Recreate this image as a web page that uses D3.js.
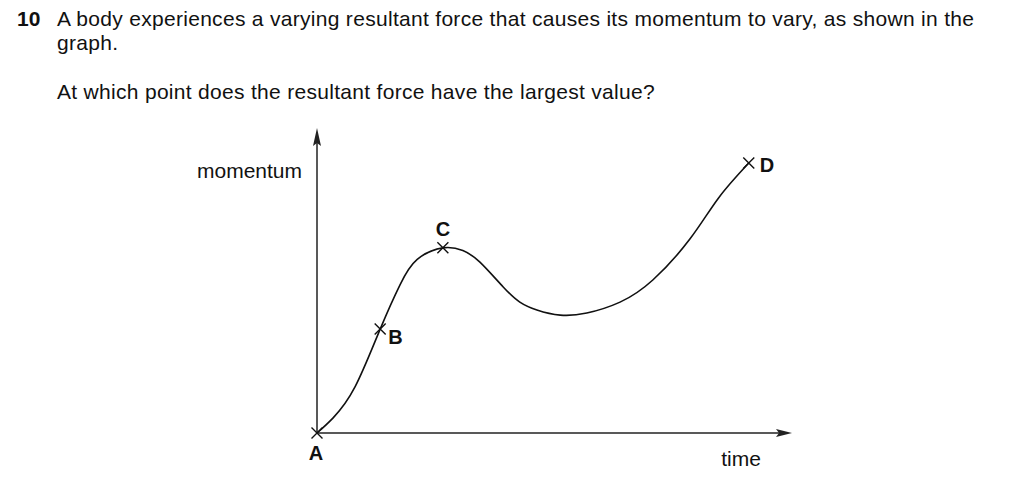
<!DOCTYPE html>
<html>
<head>
<meta charset="utf-8">
<script src="https://cdn.jsdelivr.net/npm/d3@7"></script>
<style>
  html, body { margin: 0; padding: 0; background: #fff; }
  svg { display: block; font-family: "Liberation Sans", Arial, Helvetica, sans-serif; }
</style>
</head>
<body>
<svg id="chart" width="1024" height="498"></svg>
<script>
// ---- data (time and momentum in arbitrary units) ----
const curveTime     = [0, 3.4, 8.0, 13.3, 17.5, 21.1, 26.5, 30.7, 34.3, 39.2, 42.7, 46.3, 51.2, 56.8, 63.8, 70.7, 78.5, 84.5, 90.9];
const curveMomentum = [0, 5.0, 15.2, 34.3, 49.0, 57.3, 61.1, 60.2, 56.4, 48.2, 43.2, 40.6, 38.9, 39.6, 43.2, 50.5, 64.0, 77.5, 89.1];
const pointNames    = ["A", "B", "C", "D"];
const pointTime     = [0, 13.3, 26.5, 90.9];
const pointMomentum = [0, 34.3, 61.1, 89.1];
const axisLabels    = ["time", "momentum"];
const questionLines = [
  "A body experiences a varying resultant force that causes its momentum to vary, as shown in the",
  "graph.",
  "At which point does the resultant force have the largest value?"
];
const questionNumber = "10";

const svg = d3.select("#chart");
const ink = "#111";

// ---- question text ----
svg.append("text").attr("x", 17).attr("y", 26)
  .attr("font-size", 21).attr("font-weight", "bold").attr("fill", ink)
  .text(questionNumber);
const qY = [26, 50, 99];
questionLines.forEach((t, i) => {
  svg.append("text").attr("x", 57).attr("y", qY[i])
    .attr("font-size", 21).attr("letter-spacing", 0.3).attr("fill", ink).text(t);
});

// ---- scales ----
const x = d3.scaleLinear().domain([0, 100]).range([317, 792]);
const y = d3.scaleLinear().domain([0, 100]).range([433, 130]);

// ---- axes ----
const axisG = svg.append("g");
axisG.append("line")
  .attr("x1", x(0)).attr("y1", y(0)).attr("x2", x(0)).attr("y2", y(100) + 12)
  .attr("stroke", "#222").attr("stroke-width", 1.5);
axisG.append("line")
  .attr("x1", x(0)).attr("y1", y(0)).attr("x2", x(100) - 12).attr("y2", y(0))
  .attr("stroke", "#222").attr("stroke-width", 1.5);
axisG.append("path")
  .attr("d", `M${x(0)},${y(100) - 2} L${x(0) - 4},${y(100) + 16} L${x(0)},${y(100) + 13} L${x(0) + 4},${y(100) + 16} Z`)
  .attr("fill", "#222");
axisG.append("path")
  .attr("d", `M${x(100)},${y(0)} L${x(100) - 16},${y(0) - 4} L${x(100) - 13},${y(0)} L${x(100) - 16},${y(0) + 4} Z`)
  .attr("fill", "#222");

// axis labels
svg.append("text").attr("x", 741).attr("y", 466).attr("text-anchor", "middle")
  .attr("font-size", 21).attr("fill", ink).text(axisLabels[0]);
svg.append("text").attr("x", 302).attr("y", 178).attr("text-anchor", "end")
  .attr("font-size", 21).attr("fill", ink).text(axisLabels[1]);

// ---- curve ----
const pts = curveTime.map((t, i) => [t, curveMomentum[i]]);
const line = d3.line().x(d => x(d[0])).y(d => y(d[1])).curve(d3.curveNatural);
svg.append("path").datum(pts).attr("d", line)
  .attr("fill", "none").attr("stroke", ink).attr("stroke-width", 1.6);

// ---- points (crosses) and labels ----
const labelOffsets = { A: [-1, 27, "middle"], B: [8, 15, "start"], C: [0, -12, "middle"], D: [11, 9, "start"] };
pointNames.forEach((n, i) => {
  const px = x(pointTime[i]), py = y(pointMomentum[i]);
  const s = 5.5;
  svg.append("path")
    .attr("d", `M${px - s},${py - s} L${px + s},${py + s} M${px - s},${py + s} L${px + s},${py - s}`)
    .attr("stroke", ink).attr("stroke-width", 1.4).attr("fill", "none");
  const o = labelOffsets[n];
  svg.append("text").attr("x", px + o[0]).attr("y", py + o[1])
    .attr("text-anchor", o[2]).attr("font-size", 20).attr("font-weight", "bold")
    .attr("fill", ink).text(n);
});
</script>
</body>
</html>
